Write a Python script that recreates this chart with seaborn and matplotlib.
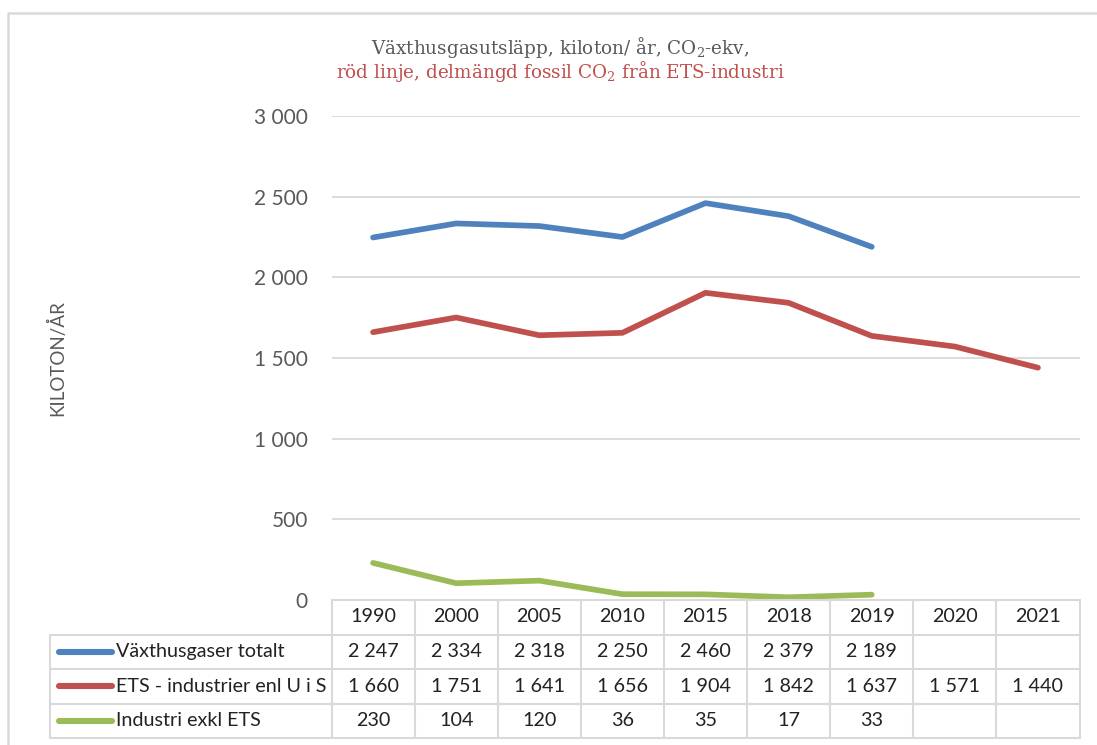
import numpy as np
import pandas as pd
import matplotlib
matplotlib.use("Agg")
import matplotlib.pyplot as plt
import matplotlib.transforms as mtransforms
from matplotlib.lines import Line2D
import seaborn as sns

# ---------------- data ----------------
years = ["1990", "2000", "2005", "2010", "2015", "2018", "2019", "2020", "2021"]
series_names = ["Växthusgaser totalt", "ETS - industrier enl U i S", "Industri exkl ETS"]
total_ghg = [2247, 2334, 2318, 2250, 2460, 2379, 2189, np.nan, np.nan]
ets_industry = [1660, 1751, 1641, 1656, 1904, 1842, 1637, 1571, 1440]
industry_excl_ets = [230, 104, 120, 36, 35, 17, 33, np.nan, np.nan]
y_ticks = [0, 500, 1000, 1500, 2000, 2500, 3000]
title_line1 = r"Växthusgasutsläpp, kiloton/ år, CO$_{\mathrm{2}}$-ekv,"
title_line2 = r"röd linje, delmängd fossil CO$_{\mathrm{2}}$ från ETS-industri"
y_label = "KILOTON/ÅR"

colors = {"Växthusgaser totalt": "#4F81BD",
          "ETS - industrier enl U i S": "#C0504D",
          "Industri exkl ETS": "#9BBB59"}

values = [total_ghg, ets_industry, industry_excl_ets]
rows = []
for name, vals in zip(series_names, values):
    for i, v in enumerate(vals):
        rows.append({"pos": i, "year": years[i], "series": name, "value": v})
df = pd.DataFrame(rows).dropna()

# ---------------- style ----------------
sns.set_theme(style="white")
plt.rcParams["font.family"] = ["Lato", "DejaVu Sans"]
plt.rcParams["mathtext.fontset"] = "dejavuserif"

W, H = 1097, 745
fig = plt.figure(figsize=(W / 100, H / 100), dpi=100)
fig.patch.set_facecolor("white")

ax_left, ax_right, ax_top, ax_bottom = 331.5, 1079.5, 116, 600
ax = fig.add_axes([ax_left / W, 1 - ax_bottom / H, (ax_right - ax_left) / W, (ax_bottom - ax_top) / H])

sns.lineplot(data=df, x="pos", y="value", hue="series", hue_order=series_names,
             palette=colors, linewidth=4.1, legend=False, sort=False, ax=ax,
             solid_capstyle="round")

ax.set_xlim(-0.5, len(years) - 0.5)
ax.set_ylim(0, 3000)
ax.set_yticks(y_ticks)
ax.set_yticklabels([f"{v:,}".replace(",", " ") for v in y_ticks])
ax.set_xticks([])
ax.set_xlabel("")
ax.set_ylabel("")
ax.tick_params(axis="y", length=0, pad=17, labelsize=15, labelcolor="#595959")
for s in ax.spines.values():
    s.set_visible(False)
ax.yaxis.grid(True, color="#D9D9D9", linewidth=1.3)
ax.set_axisbelow(True)

# y label
fig.text(57 / W, 1 - 358 / H, y_label, rotation=90, ha="center", va="center",
         fontsize=13.5, color="#595959")

# title
fig.text(560 / W, 1 - 47 / H, title_line1, ha="center", va="center",
         fontsize=13.2, color="#595959", family="DejaVu Serif")
fig.text(560 / W, 1 - 71 / H, title_line2, ha="center", va="center",
         fontsize=13.2, color="#C0504D", family="DejaVu Serif")

# ---------------- data table ----------------
ph = ax_bottom - ax_top
def ay(ypix):
    return (ax_bottom - ypix) / ph

grid_c = "#D9D9D9"
row_edges = [600, 634.5, 669, 703.5, 738]
row_centers = [617, 651.5, 686, 720.5]
tr_fig_ax = mtransforms.blended_transform_factory(fig.transFigure, ax.transAxes)
tr_data_ax = mtransforms.blended_transform_factory(ax.transData, ax.transAxes)
label_left = 50 / W

# horizontal lines
ax.plot([-0.5, len(years) - 0.5], [ay(row_edges[0])] * 2, transform=tr_data_ax,
        color=grid_c, lw=1.5, clip_on=False)
for e in row_edges[1:]:
    ax.add_line(Line2D([label_left, ax_right / W], [ay(e)] * 2, transform=tr_fig_ax,
                       color=grid_c, lw=1.5, clip_on=False))
# vertical lines
for k in range(len(years) + 1):
    ax.plot([k - 0.5, k - 0.5], [ay(row_edges[0]), ay(row_edges[-1])], transform=tr_data_ax,
            color=grid_c, lw=1.5, clip_on=False)
ax.add_line(Line2D([label_left, label_left], [ay(row_edges[1]), ay(row_edges[-1])],
                   transform=tr_fig_ax, color=grid_c, lw=1.5, clip_on=False))

txt_c = "#222222"
for i, yr in enumerate(years):
    ax.text(i, ay(row_centers[0]), yr, transform=tr_data_ax, ha="center", va="center",
            fontsize=14.2, color=txt_c)

for r, (name, vals) in enumerate(zip(series_names, values)):
    yc = ay(row_centers[r + 1])
    ax.add_line(Line2D([59 / W, 112 / W], [yc, yc], transform=tr_fig_ax, color=colors[name],
                       lw=4.4, solid_capstyle="round", clip_on=False))
    ax.text(116 / W, yc, name, transform=tr_fig_ax, ha="left", va="center",
            fontsize=14.2, color=txt_c)
    for i, v in enumerate(vals):
        if not np.isnan(v):
            ax.text(i, yc, f"{int(v):,}".replace(",", " "), transform=tr_data_ax,
                    ha="center", va="center", fontsize=14.2, color=txt_c)

# outer chart frame (top and left borders)
fig.add_artist(Line2D([7.5 / W, 7.5 / W, 1.0], [0.0, 1 - 12.5 / H, 1 - 12.5 / H],
                      transform=fig.transFigure, color="#D9D9D9", lw=1.8))

fig.savefig("out.png", dpi=100, facecolor="white")
